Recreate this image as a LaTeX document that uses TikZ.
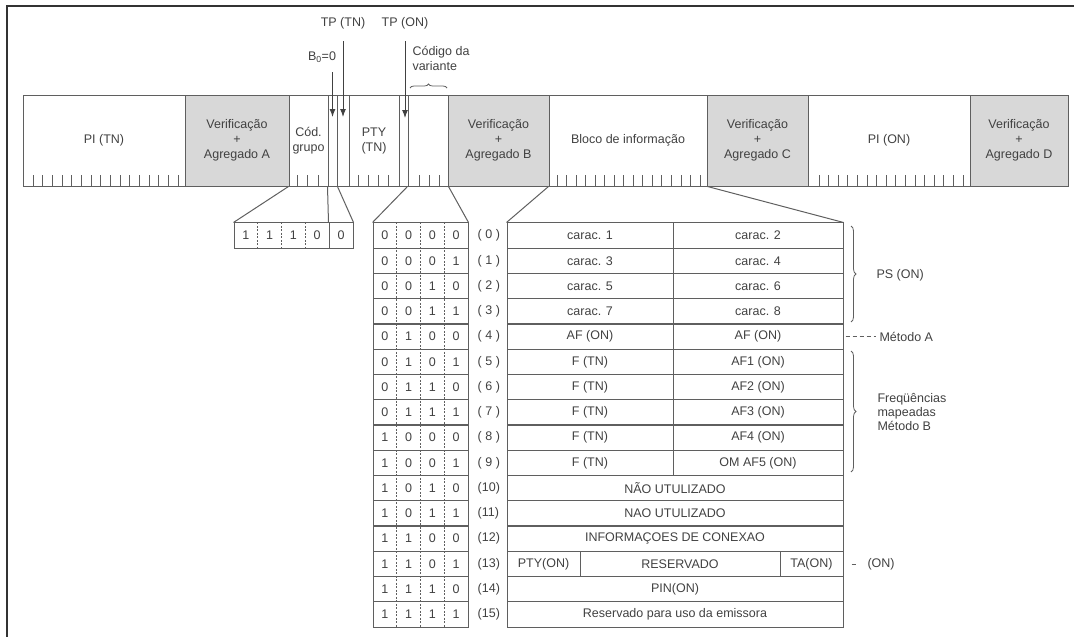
\documentclass[tikz,border=0pt]{standalone}
\usepackage{fontspec}
\setmainfont{Liberation Sans}
\usetikzlibrary{arrows.meta,decorations.pathreplacing}

\definecolor{inkgray}{RGB}{95,95,95}
\definecolor{textgray}{RGB}{65,65,65}
\definecolor{boxgray}{RGB}{216,216,216}

\newcommand{\bits}[4]{\makebox[23.75pt]{#1}\makebox[23.75pt]{#2}\makebox[23.75pt]{#3}\makebox[23.75pt]{#4}}

\tikzset{
  field/.style={draw=inkgray, line width=1pt, minimum height=91, inner sep=0pt, align=center},
  checkfield/.style={field, fill=boxgray},
  bitrow/.style={draw=inkgray, line width=1pt, minimum width=95, minimum height=25.25, inner sep=0pt},
  cell/.style={draw=inkgray, line width=1pt, minimum height=25.25, inner sep=0pt},
  rowlabel/.style={inner sep=0pt, label distance=9pt},
  bitsep/.style={draw=inkgray, line width=.8pt, dash pattern=on 2pt off 1.5pt},
  tick/.style={draw=inkgray, line width=.8pt},
  fan/.style={draw=inkgray, line width=1pt},
  pointer/.style={draw=textgray, line width=1pt, -{Latex[length=8pt,width=6pt]}},
  curly/.style={draw=inkgray, line width=.8pt, decorate, decoration={brace, amplitude=5pt}},
  methodline/.style={draw=inkgray, line width=.8pt, dash pattern=on 4pt off 3pt},
}

\begin{document}
\begin{tikzpicture}[x=1pt, y=-1pt, every node/.style={text=textgray, font=\fontsize{12.5}{15}\selectfont}]
\useasboundingbox (0,0) rectangle (1074,637);
\draw[line width=2pt, draw=black!80] (7,637) -- (7,6) -- (1074,6);

\node[field, minimum width=162] (pitn) at (104,140.5) {PI (TN)};
\node[checkfield, minimum width=104] (veria) at (237,140.5) {Verificação\\+\\Agregado A};
\node[field, minimum width=39] (cod) at (308.5,140.5) {Cód.\\grupo};
\node[field, minimum width=9] (bzero) at (332.5,140.5) {};
\node[field, minimum width=12] (tptn) at (343,140.5) {};
\node[field, minimum width=50] (ptytn) at (374,140.5) {PTY\\(TN)};
\node[field, minimum width=9] (tpon) at (403.5,140.5) {};
\node[field, minimum width=40] (var) at (428,140.5) {};
\node[checkfield, minimum width=101] (verib) at (498.5,140.5) {Verificação\\+\\Agregado B};
\node[field, minimum width=158] (bloco) at (628,140.5) {Bloco de informação};
\node[checkfield, minimum width=101] (veric) at (757.5,140.5) {Verificação\\+\\Agregado C};
\node[field, minimum width=162] (pion) at (889,140.5) {PI (ON)};
\node[checkfield, minimum width=98] (verid) at (1019,140.5) {Verificação\\+\\Agregado D};

\foreach \i in {0,...,15} {
  \draw[tick] ({33+9.667*\i},175) -- ++(0,11);
  \draw[tick] ({557+9.533*\i},175) -- ++(0,11);
  \draw[tick] ({819+9.6*\i},175) -- ++(0,11);
}
\foreach \x in {297,307.5,318,358,368,378,388,419,429,439}
  \draw[tick] (\x,175) -- ++(0,11);

\node (tptnlbl) at (343,23) {TP (TN)};
\node (tponlbl) at (405,23) {TP (ON)};
\node (bzlbl) at (322,57) {B\textsubscript{0}=0};
\node[anchor=north west, align=left] (varlbl) at (409,43) {Código da\\variante};
\coordinate (bztop) at (332.5,72);
\coordinate (bztip) at (332.5,117);
\coordinate (tptntip) at (343,117);
\coordinate (tpontip) at (405,118);
\draw[pointer] (bztop) -- (bztip);
\draw[pointer, shorten <=9pt] (tptnlbl) -- (tptntip);
\draw[pointer, shorten <=9pt] (tponlbl) -- (tpontip);
\draw[curly, decoration={brace, amplitude=4pt}] (410,88) -- (447,88);

\node[bitrow] (grp) at (281.5,235.6) {\bits1110};
\node[bitrow, minimum width=24] (grpb) at (341,235.6) {0};
\draw[bitsep] ([xshift=-23.75pt]grp.north) -- ([xshift=-23.75pt]grp.south);
\draw[bitsep] (grp.north) -- (grp.south);
\draw[bitsep] ([xshift=23.75pt]grp.north) -- ([xshift=23.75pt]grp.south);

\node[bitrow, label={[rowlabel]right:( 0 )}] (r0) at (420.5,235.6) {\bits0000};
\node[bitrow, label={[rowlabel]right:( 1 )}] (r1) at (420.5,260.9) {\bits0001};
\node[bitrow, label={[rowlabel]right:( 2 )}] (r2) at (420.5,286.1) {\bits0010};
\node[bitrow, label={[rowlabel]right:( 3 )}] (r3) at (420.5,311.4) {\bits0011};
\node[bitrow, label={[rowlabel]right:( 4 )}] (r4) at (420.5,336.6) {\bits0100};
\node[bitrow, label={[rowlabel]right:( 5 )}] (r5) at (420.5,361.9) {\bits0101};
\node[bitrow, label={[rowlabel]right:( 6 )}] (r6) at (420.5,387.1) {\bits0110};
\node[bitrow, label={[rowlabel]right:( 7 )}] (r7) at (420.5,412.4) {\bits0111};
\node[bitrow, label={[rowlabel]right:( 8 )}] (r8) at (420.5,437.6) {\bits1000};
\node[bitrow, label={[rowlabel]right:( 9 )}] (r9) at (420.5,462.9) {\bits1001};
\node[bitrow, label={[rowlabel]right:(10)}] (r10) at (420.5,488.1) {\bits1010};
\node[bitrow, label={[rowlabel]right:(11)}] (r11) at (420.5,513.4) {\bits1011};
\node[bitrow, label={[rowlabel]right:(12)}] (r12) at (420.5,538.6) {\bits1100};
\node[bitrow, label={[rowlabel]right:(13)}] (r13) at (420.5,563.9) {\bits1101};
\node[bitrow, label={[rowlabel]right:(14)}] (r14) at (420.5,589.1) {\bits1110};
\node[bitrow, label={[rowlabel]right:(15)}] (r15) at (420.5,614.4) {\bits1111};
\draw[bitsep] ([xshift=-23.75pt]r0.north) -- ([xshift=-23.75pt]r15.south);
\draw[bitsep] (r0.north) -- (r15.south);
\draw[bitsep] ([xshift=23.75pt]r0.north) -- ([xshift=23.75pt]r15.south);

\node[cell, minimum width=166] (c0l) at (590,235.6) {carac. 1};
\node[cell, minimum width=170] (c0r) at (758,235.6) {carac. 2};
\node[cell, minimum width=166] (c1l) at (590,260.9) {carac. 3};
\node[cell, minimum width=170] (c1r) at (758,260.9) {carac. 4};
\node[cell, minimum width=166] (c2l) at (590,286.1) {carac. 5};
\node[cell, minimum width=170] (c2r) at (758,286.1) {carac. 6};
\node[cell, minimum width=166] (c3l) at (590,311.4) {carac. 7};
\node[cell, minimum width=170] (c3r) at (758,311.4) {carac. 8};
\node[cell, minimum width=166] (c4l) at (590,336.6) {AF (ON)};
\node[cell, minimum width=170] (c4r) at (758,336.6) {AF (ON)};
\node[cell, minimum width=166] (c5l) at (590,361.9) {F (TN)};
\node[cell, minimum width=170] (c5r) at (758,361.9) {AF1 (ON)};
\node[cell, minimum width=166] (c6l) at (590,387.1) {F (TN)};
\node[cell, minimum width=170] (c6r) at (758,387.1) {AF2 (ON)};
\node[cell, minimum width=166] (c7l) at (590,412.4) {F (TN)};
\node[cell, minimum width=170] (c7r) at (758,412.4) {AF3 (ON)};
\node[cell, minimum width=166] (c8l) at (590,437.6) {F (TN)};
\node[cell, minimum width=170] (c8r) at (758,437.6) {AF4 (ON)};
\node[cell, minimum width=166] (c9l) at (590,462.9) {F (TN)};
\node[cell, minimum width=170] (c9r) at (758,462.9) {OM AF5 (ON)};
\node[cell, minimum width=336] (c10) at (675,488.1) {NÃO UTULIZADO};
\node[cell, minimum width=336] (c11) at (675,513.4) {NAO UTULIZADO};
\node[cell, minimum width=336] (c12) at (675,538.6) {INFORMAÇOES DE CONEXAO};
\node[cell, minimum width=73] (c13a) at (543.5,563.9) {PTY(ON)};
\node[cell, minimum width=200] (c13b) at (680,563.9) {RESERVADO};
\node[cell, minimum width=63] (c13c) at (811.5,563.9) {TA(ON)};
\node[cell, minimum width=336] (c14) at (675,589.1) {PIN(ON)};
\node[cell, minimum width=336] (c15) at (675,614.4) {Reservado para uso da emissora};

\draw[fan] (cod.south west) -- (grp.north west);
\draw[fan] (bzero.south west) -- (grpb.north west);
\draw[fan] (bzero.south east) -- (grpb.north east);
\draw[fan] (var.south west) -- (r0.north west);
\draw[fan] (var.south east) -- (r0.north east);
\draw[fan] (bloco.south west) -- (c0l.north west);
\draw[fan] (bloco.south east) -- (c0r.north east);

\draw[curly] (851,226) -- (851,322);
\node[anchor=west] (ps) at (873,275) {PS (ON)};
\node[anchor=west] (meta) at (876,336.6) {Método A};
\draw[methodline] ([xshift=2pt]c4r.east) -- (meta.west);
\draw[curly] (851,351) -- (851,472);
\node[anchor=west, align=left, font=\fontsize{12.5}{14}\selectfont] (freq) at (874,412) {Freqüências\\mapeadas\\Método B};
\node[anchor=west] (onlbl) at (864,563.9) {(ON)};
\draw[methodline] ([xshift=8pt]c13c.east) -- ([xshift=-8pt]onlbl.west);
\end{tikzpicture}
\end{document}
